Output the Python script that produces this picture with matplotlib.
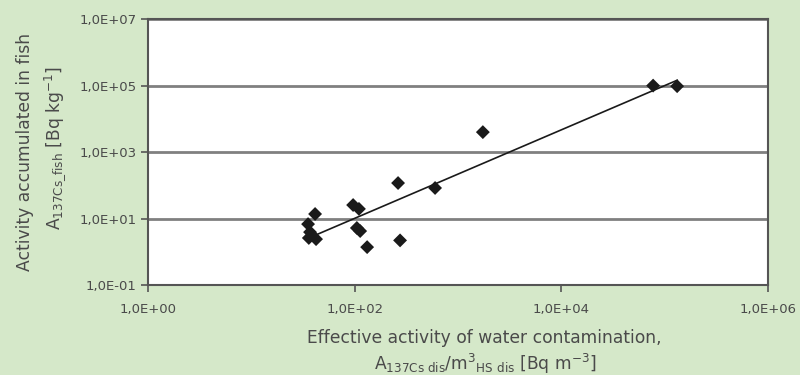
import numpy as np
import matplotlib.pyplot as plt
from matplotlib.ticker import FixedLocator, FuncFormatter, NullLocator

# effective water contamination [Bq m-3] vs fish activity [Bq kg-1]
water_act = [35.4, 37, 36, 41.4, 42.3, 96.6, 110, 105, 113, 132,
             263, 275, 600, 1740, 77300, 132000]
fish_act = [6.8, 3.9, 2.6, 13.7, 2.4, 25.5, 19.5, 5.2, 4.2, 1.38,
            117, 2.2, 83, 3980, 100000, 96000]

xticks = [1e0, 1e2, 1e4, 1e6]
yticks = [1e-1, 1e1, 1e3, 1e5, 1e7]

bg = '#d5e8c9'
txt = '#4a4a4a'

plt.rcParams['font.family'] = ['DejaVu Sans']
plt.rcParams['mathtext.fontset'] = 'dejavusans'

fig = plt.figure(figsize=(8, 3.75), dpi=100, facecolor=bg)
ax = fig.add_axes([0.185, 0.24, 0.775, 0.709])
ax.set_facecolor('white')

x = np.array(water_act)
y = np.array(fish_act)

# power-law trend line (linear fit in log-log)
b, a = np.polyfit(np.log10(x), np.log10(y), 1)
xl = np.array([x.min() * 1.15, x.max()])
ax.plot(xl, 10 ** (a + b * np.log10(xl)), color='#1a1a1a', lw=1.2, zorder=3)

ax.scatter(x, y, marker='D', s=50, color='#1a1a1a', edgecolors='none', zorder=4)

ax.set_xscale('log')
ax.set_yscale('log')
ax.set_xlim(1e0, 1e6)
ax.set_ylim(1e-1, 1e7)

fmt = FuncFormatter(lambda v, p: '1,0E%+03d' % int(round(np.log10(v))))
ax.xaxis.set_major_locator(FixedLocator(xticks))
ax.yaxis.set_major_locator(FixedLocator(yticks))
ax.xaxis.set_minor_locator(NullLocator())
ax.yaxis.set_minor_locator(NullLocator())
ax.xaxis.set_major_formatter(fmt)
ax.yaxis.set_major_formatter(fmt)

ax.yaxis.grid(True, color='#808080', lw=2)
ax.set_axisbelow(True)

for s in ax.spines.values():
    s.set_color('#555555')
    s.set_linewidth(1.5)

ax.tick_params(axis='both', colors='#555555', labelcolor=txt, labelsize=9.5,
               length=5, width=1.2, direction='out')
ax.tick_params(axis='x', pad=8)

# axis titles, two lines each
fig.text(484 / 800, 1 - 338 / 375, 'Effective activity of water contamination,',
         color=txt, fontsize=12.3, ha='center', va='center')
fig.text(485 / 800, 1 - 364 / 375,
         r'A$_{\mathrm{137Cs\ dis}}$/m$^{3}$$_{\mathrm{HS\ dis}}$ [Bq m$^{-3}$]',
         color=txt, fontsize=12.3, ha='center', va='center')
fig.text(25 / 800, 1 - 152 / 375, 'Activity accumulated in fish',
         color=txt, fontsize=12.3, ha='center', va='center', rotation=90)
fig.text(55 / 800, 1 - 148 / 375,
         r'A$_{\mathrm{137Cs\_fish}}$ [Bq kg$^{-1}$]',
         color=txt, fontsize=12.3, ha='center', va='center', rotation=90)

fig.savefig('out.png', dpi=100, facecolor=bg)
